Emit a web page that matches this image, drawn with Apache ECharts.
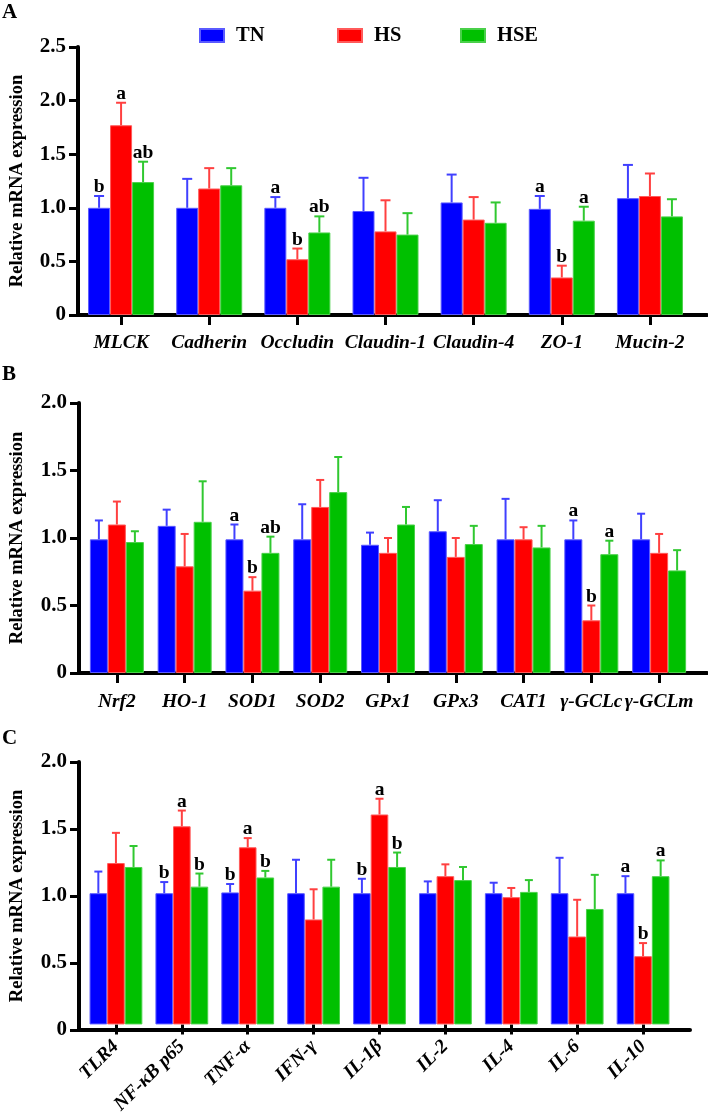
<!DOCTYPE html>
<html>
<head>
<meta charset="utf-8">
<script src="https://cdn.jsdelivr.net/npm/echarts@6/dist/echarts.min.js"></script>
<style>html,body{margin:0;padding:0;background:#fff}#c{width:708px;height:1117px}</style>
</head>
<body>
<div id="c"></div>
<script>
// ---------- DATA ----------
const groups = ['TN', 'HS', 'HSE'];

const catsA = ['MLCK', 'Cadherin', 'Occludin', 'Claudin-1', 'Claudin-4', 'ZO-1', 'Mucin-2'];
const tnA   = [1.00, 1.00, 1.00, 0.97, 1.05, 0.99, 1.09];
const tnA_sd = [0.11, 0.27, 0.10, 0.31, 0.26, 0.12, 0.31];
const hsA   = [1.77, 1.18, 0.52, 0.78, 0.89, 0.35, 1.11];
const hsA_sd = [0.21, 0.19, 0.10, 0.29, 0.21, 0.11, 0.21];
const hseA  = [1.24, 1.21, 0.77, 0.75, 0.86, 0.88, 0.92];
const hseA_sd = [0.19, 0.16, 0.15, 0.20, 0.19, 0.13, 0.16];
const tnA_sig  = ['b', '', 'a', '', '', 'a', ''];
const hsA_sig  = ['a', '', 'b', '', '', 'b', ''];
const hseA_sig = ['ab', '', 'ab', '', '', 'a', ''];
const yTicksA = ['0', '0.5', '1.0', '1.5', '2.0', '2.5'];

const catsB = ['Nrf2', 'HO-1', 'SOD1', 'SOD2', 'GPx1', 'GPx3', 'CAT1', 'γ-GCLc', 'γ-GCLm'];
const tnB   = [0.99, 1.09, 0.99, 0.99, 0.95, 1.05, 0.99, 0.99, 0.99];
const tnB_sd = [0.14, 0.12, 0.11, 0.26, 0.09, 0.23, 0.30, 0.14, 0.19];
const hsB   = [1.10, 0.79, 0.61, 1.23, 0.89, 0.86, 0.99, 0.39, 0.89];
const hsB_sd = [0.17, 0.24, 0.10, 0.20, 0.11, 0.14, 0.09, 0.11, 0.14];
const hseB  = [0.97, 1.12, 0.89, 1.34, 1.10, 0.955, 0.93, 0.88, 0.76];
const hseB_sd = [0.08, 0.30, 0.12, 0.26, 0.13, 0.135, 0.16, 0.10, 0.15];
const tnB_sig  = ['', '', 'a', '', '', '', '', 'a', ''];
const hsB_sig  = ['', '', 'b', '', '', '', '', 'b', ''];
const hseB_sig = ['', '', 'ab', '', '', '', '', 'a', ''];
const yTicksB = ['0', '0.5', '1.0', '1.5', '2.0'];

const catsC = ['TLR4', 'NF-κB p65', 'TNF-α', 'IFN-γ', 'IL-1β', 'IL-2', 'IL-4', 'IL-6', 'IL-10'];
const tnC   = [1.00, 1.00, 1.006, 1.00, 1.00, 1.00, 1.00, 1.00, 1.00];
const tnC_sd = [0.165, 0.085, 0.064, 0.255, 0.11, 0.09, 0.08, 0.27, 0.13];
const hsC   = [1.23, 1.51, 1.35, 0.80, 1.60, 1.13, 0.97, 0.67, 0.52];
const hsC_sd = [0.23, 0.12, 0.07, 0.23, 0.12, 0.09, 0.07, 0.28, 0.10];
const hseC  = [1.20, 1.05, 1.12, 1.05, 1.20, 1.10, 1.01, 0.88, 1.13];
const hseC_sd = [0.16, 0.10, 0.05, 0.205, 0.11, 0.10, 0.09, 0.26, 0.12];
const tnC_sig  = ['', 'b', 'b', '', 'b', '', '', '', 'a'];
const hsC_sig  = ['', 'a', 'a', '', 'a', '', '', '', 'b'];
const hseC_sig = ['', 'b', 'b', '', 'b', '', '', '', 'a'];
const yTicksC = ['0', '0.5', '1.0', '1.5', '2.0'];

// ---------- STYLE ----------
const FONT = '"Liberation Serif", "Times New Roman", serif';
const barColors = ['#0000ff', '#ff0000', '#00c000'];
const borderColors = ['#5a5aff', '#ff5a5a', '#4ad04a'];
const errColors = ['#4040ff', '#ff4040', '#30c830'];

const panels = [
  { cats: catsA, mean: [tnA, hsA, hseA], sd: [tnA_sd, hsA_sd, hseA_sd], sig: [tnA_sig, hsA_sig, hseA_sig],
    ticks: yTicksA, max: 2.5,
    frame: { left: 64, top: 47, width: 643, height: 268 },
    bars:  { left: 77, top: 47, width: 617, height: 268 },
    barW: 22, capW: 10, rotate: 0, labelMargin: 18, nameGap: 51 },
  { cats: catsB, mean: [tnB, hsB, hseB], sd: [tnB_sd, hsB_sd, hseB_sd], sig: [tnB_sig, hsB_sig, hseB_sig],
    ticks: yTicksB, max: 2.0,
    frame: { left: 71, top: 403, width: 636, height: 270 },
    bars:  { left: 83, top: 403, width: 610, height: 270 },
    barW: 18, capW: 8, rotate: 0, labelMargin: 19, nameGap: 52 },
  { cats: catsC, mean: [tnC, hsC, hseC], sd: [tnC_sd, hsC_sd, hseC_sd], sig: [tnC_sig, hsC_sig, hseC_sig],
    ticks: yTicksC, max: 2.0,
    frame: { left: 71, top: 762, width: 619, height: 268 },
    bars:  { left: 83, top: 762, width: 593, height: 268 },
    barW: 17.6, capW: 8, rotate: 45, labelMargin: 19, nameGap: 52 }
];

const grid = [], xAxis = [], yAxis = [], series = [];
panels.forEach((p, k) => {
  grid.push(Object.assign({ containLabel: false }, p.frame));
  grid.push(Object.assign({ containLabel: false }, p.bars));
  // frame axes (visible y axis + x axis line)
  xAxis.push({ type: 'value', gridIndex: 2 * k, min: 0, max: 1,
    axisLine: { show: true, onZero: false, lineStyle: { color: '#000', width: 4 } },
    axisTick: { show: false }, axisLabel: { show: false }, splitLine: { show: false } });
  yAxis.push({ type: 'value', gridIndex: 2 * k, min: 0, max: p.max, interval: 0.5,
    name: 'Relative mRNA expression', nameLocation: 'middle', nameGap: p.nameGap,
    nameTextStyle: { fontFamily: FONT, fontSize: 18.5, fontWeight: 'bold', color: '#000' },
    axisLine: { show: true, lineStyle: { color: '#000', width: 4 } },
    axisTick: { show: true, length: 9, lineStyle: { color: '#000', width: 3 } },
    axisLabel: { fontFamily: FONT, fontSize: 21, fontWeight: 'bold', color: '#000', margin: 12,
      formatter: (v, i) => p.ticks[i] },
    splitLine: { show: false } });
  // bar axes
  xAxis.push({ type: 'category', gridIndex: 2 * k + 1, data: p.cats,
    axisLine: { show: false },
    axisTick: { show: true, alignWithLabel: true, length: 10, lineStyle: { color: '#000', width: 3 } },
    axisLabel: { fontFamily: FONT, fontSize: 19.5, fontWeight: 'bold', fontStyle: 'italic', color: '#000',
      margin: p.labelMargin, rotate: p.rotate, interval: 0 } });
  yAxis.push({ type: 'value', gridIndex: 2 * k + 1, min: 0, max: p.max, show: false, splitLine: { show: false } });

  groups.forEach((g, gi) => {
    series.push({ type: 'bar', name: g, xAxisIndex: 2 * k + 1, yAxisIndex: 2 * k + 1,
      data: p.mean[gi], barWidth: p.barW, barGap: '0%',
      itemStyle: { color: barColors[gi], borderColor: borderColors[gi], borderWidth: 1 } });
  });
  groups.forEach((g, gi) => {
    const mean = p.mean[gi], sd = p.sd[gi], sig = p.sig[gi];
    series.push({ type: 'custom', xAxisIndex: 2 * k + 1, yAxisIndex: 2 * k + 1, z: 5, clip: false,
      data: p.cats.map((c, i) => [i, mean[i], mean[i] + sd[i]]),
      renderItem: (params, api) => {
        const i = api.value(0);
        const base = api.coord([i, api.value(1)]);
        const top = api.coord([i, api.value(2)]);
        const x = base[0] + (gi - 1) * p.barW;
        const st = { stroke: errColors[gi], lineWidth: 2 };
        const children = [
          { type: 'line', shape: { x1: x, y1: base[1], x2: x, y2: top[1] }, style: st },
          { type: 'line', shape: { x1: x - p.capW / 2, y1: top[1], x2: x + p.capW / 2, y2: top[1] }, style: st }
        ];
        if (sig[i]) {
          children.push({ type: 'text', x: x, y: top[1] + 1,
            style: { text: sig[i], textAlign: 'center', textVerticalAlign: 'bottom',
              fontFamily: FONT, fontSize: 19.5, fontWeight: 'bold', fill: '#000' } });
        }
        return { type: 'group', children };
      } });
  });
});

const legendBase = { orient: 'horizontal', padding: 0, icon: 'rect', itemWidth: 24, itemHeight: 13,
  textStyle: { fontFamily: FONT, fontSize: 20.5, fontWeight: 'bold', color: '#000', padding: [0, 0, 0, 7] } };
const legend = [
  Object.assign({}, legendBase, { data: ['TN'], left: 199, top: 25 }),
  Object.assign({}, legendBase, { data: ['HS'], left: 337, top: 25 }),
  Object.assign({}, legendBase, { data: ['HSE'], left: 460, top: 25 })
];

const titleStyle = { fontFamily: FONT, fontSize: 21, fontWeight: 'bold', color: '#000' };
const title = [
  { text: 'A', left: 2, top: 2, padding: 0, textStyle: titleStyle },
  { text: 'B', left: 2, top: 364, padding: 0, textStyle: titleStyle },
  { text: 'C', left: 2, top: 728, padding: 0, textStyle: titleStyle }
];

const chart = echarts.init(document.getElementById('c'), null, { renderer: 'canvas' });
chart.setOption({ animation: false, backgroundColor: '#fff', title, legend, grid, xAxis, yAxis, series });
</script>
</body>
</html>
